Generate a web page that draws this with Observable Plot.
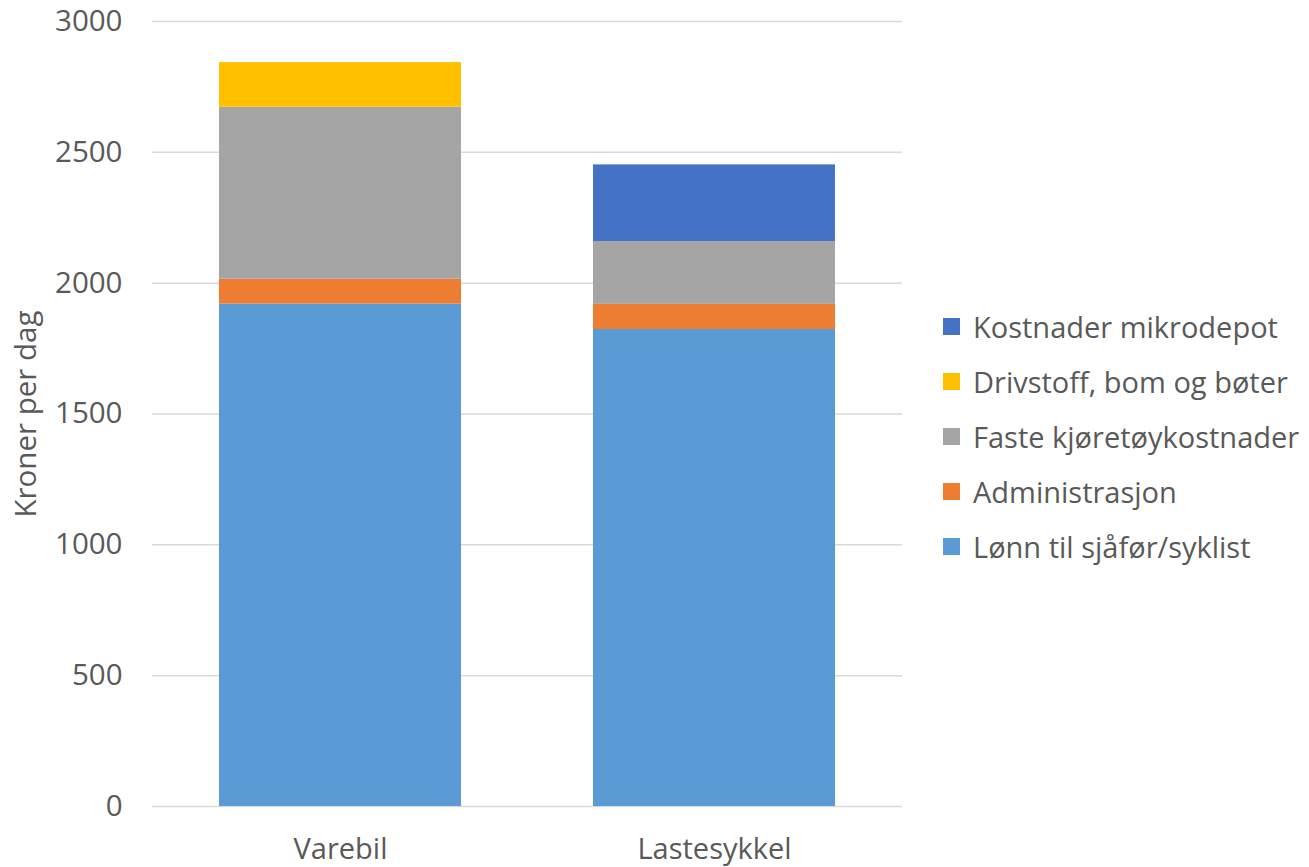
<!DOCTYPE html>
<html>
<head>
<meta charset="utf-8">
<script src="https://cdn.jsdelivr.net/npm/d3@7"></script>
<script src="https://cdn.jsdelivr.net/npm/@observablehq/plot@0.6"></script>
<style>
  html, body { margin: 0; padding: 0; background: #fff; }
  #wrap { position: relative; width: 1309px; height: 867px; font-family: "Open Sans", sans-serif; }
  #legend { position: absolute; left: 943px; top: 299px; color: #595959; font-size: 29px; }
  .item { display: flex; align-items: center; height: 55px; }
  .sw { width: 17px; height: 17px; margin-right: 13px; }
</style>
</head>
<body>
<div id="wrap"><div id="legend"></div></div>
<script>
const categories = ["Varebil", "Lastesykkel"];
const series = ["Lønn til sjåfør/syklist", "Administrasjon", "Faste kjøretøykostnader", "Drivstoff, bom og bøter", "Kostnader mikrodepot"];
const varebil = [1920, 95, 657, 171, 0];
const lastesykkel = [1823, 96, 240, 0, 293];
const colors = ["#5B9BD5", "#ED7D31", "#A5A5A5", "#FFC000", "#4472C4"];
const yTicks = [0, 500, 1000, 1500, 2000, 2500, 3000];

const values = [varebil, lastesykkel];
const data = [];
categories.forEach((c, i) => series.forEach((s, j) => {
  if (values[i][j] > 0) data.push({category: c, series: s, value: values[i][j]});
}));

const chart = Plot.plot({
  width: 1309,
  height: 867,
  marginLeft: 152,
  marginRight: 407,
  marginTop: 21,
  marginBottom: 61,
  style: {fontFamily: "Open Sans, sans-serif", color: "#595959", background: "transparent"},
  x: {domain: categories, paddingInner: 0.354, paddingOuter: 0.178, label: null},
  y: {domain: [0, 3000], label: "Kroner per dag"},
  color: {domain: series, range: colors},
  marks: [
    Plot.gridY(yTicks, {stroke: "#d9d9d9", strokeOpacity: 1, strokeWidth: 1.5}),
    Plot.barY(data, {x: "category", y: "value", fill: "series", order: series}),
    Plot.axisY(yTicks, {tickSize: 0, tickPadding: 30, fontSize: 29.5, label: "Kroner per dag", labelAnchor: "center", labelArrow: "none", labelOffset: 137, tickFormat: d => String(d)}),
    Plot.axisX({tickSize: 0, tickPadding: 32, fontSize: 29, label: null})
  ]
});
chart.style.position = "absolute";
chart.style.left = "0";
chart.style.top = "0";
const wrap = document.getElementById("wrap");
wrap.insertBefore(chart, wrap.firstChild);

// y-axis label size
chart.querySelectorAll("text").forEach(t => {
  if (t.textContent === "Kroner per dag") t.setAttribute("font-size", "29.5");
});

const legend = document.getElementById("legend");
[...series].reverse().forEach(s => {
  const it = document.createElement("div");
  it.className = "item";
  const sw = document.createElement("div");
  sw.className = "sw";
  sw.style.background = colors[series.indexOf(s)];
  const tx = document.createElement("span");
  tx.textContent = s;
  it.appendChild(sw); it.appendChild(tx);
  legend.appendChild(it);
});
</script>
</body>
</html>
